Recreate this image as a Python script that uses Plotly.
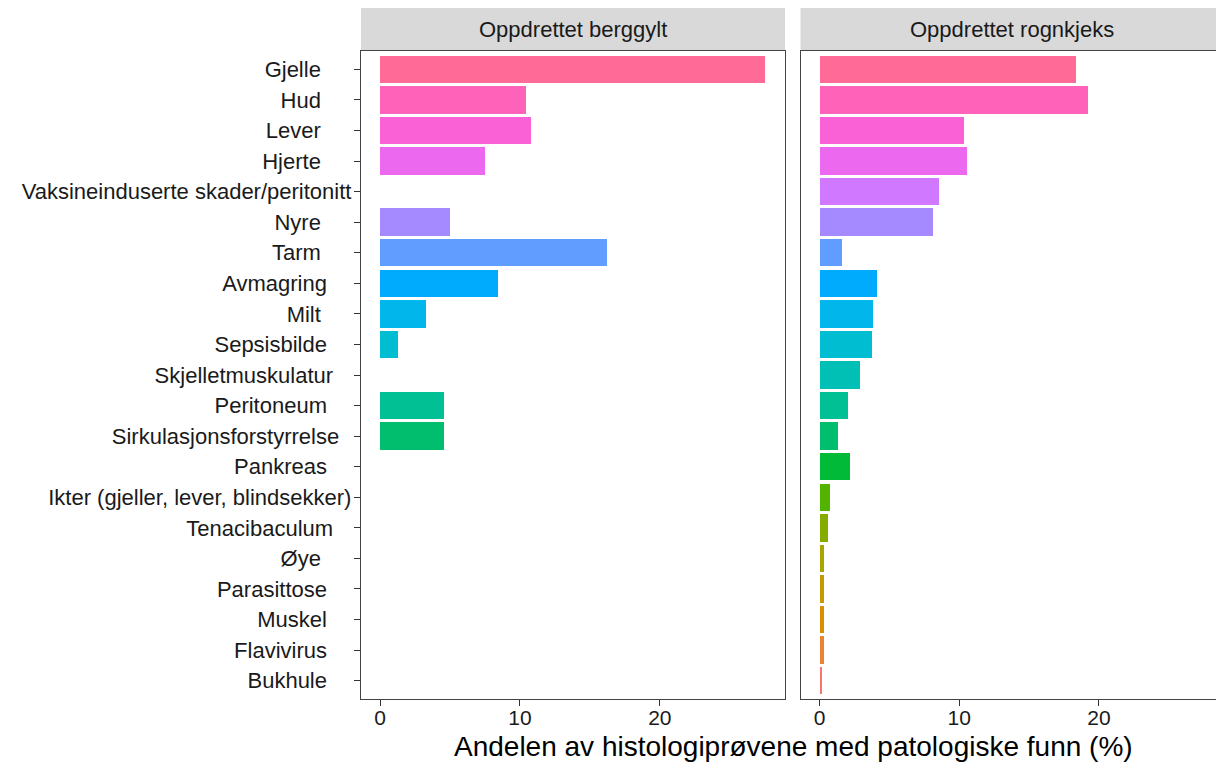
import math
import plotly.graph_objects as go

# ---------------- data ----------------
categories = [
    "Gjelle", "Hud", "Lever", "Hjerte", "Vaksineinduserte skader/peritonitt",
    "Nyre", "Tarm", "Avmagring", "Milt", "Sepsisbilde", "Skjelletmuskulatur",
    "Peritoneum", "Sirkulasjonsforstyrrelse", "Pankreas",
    "Ikter (gjeller, lever, blindsekker)", "Tenacibaculum", "Øye",
    "Parasittose", "Muskel", "Flavivirus", "Bukhule",
]
berggylt = [27.5, 10.4, 10.8, 7.5, 0, 5.0, 16.2, 8.4, 3.3, 1.3, 0,
            4.6, 4.6, 0, 0, 0, 0, 0, 0, 0, 0]
rognkjeks = [18.35, 19.2, 10.3, 10.5, 8.5, 8.1, 1.6, 4.1, 3.8, 3.7, 2.85,
             2.0, 1.3, 2.15, 0.7, 0.55, 0.28, 0.28, 0.28, 0.3, 0.12]
panels = ["Oppdrettet berggylt", "Oppdrettet rognkjeks"]
x_ticks = [0, 10, 20]
x_title = "Andelen av histologiprøvene med patologiske funn (%)"

# trailing padding (in spaces) seen on the y labels
label_pad = [5, 5, 5, 5, 0, 5, 5, 4, 5, 4, 3, 4, 2, 4, 0, 3, 5, 4, 4, 4, 4]


# ---------------- ggplot-like hue palette ----------------
def hcl_hex(h, c=100.0, l=65.0):
    hr = math.radians(h)
    U, V = c * math.cos(hr), c * math.sin(hr)
    Xn, Yn, Zn = 95.047, 100.0, 108.883
    Y = Yn * ((l + 16) / 116) ** 3
    den = Xn + 15 * Yn + 3 * Zn
    un, vn = 4 * Xn / den, 9 * Yn / den
    u = U / (13 * l) + un
    v = V / (13 * l) + vn
    X = 9 * Y * u / (4 * v)
    Z = Y * (12 - 3 * u - 20 * v) / (4 * v)
    X, Y, Z = X / 100, Y / 100, Z / 100
    r = 3.240479 * X - 1.537150 * Y - 0.498535 * Z
    g = -0.969256 * X + 1.875992 * Y + 0.041556 * Z
    b = 0.055648 * X - 0.204043 * Y + 1.057311 * Z

    def gam(t):
        t = 12.92 * t if t <= 0.0031308 else 1.055 * t ** (1 / 2.4) - 0.055
        return int(round(max(0, min(1, t)) * 255))

    return "#%02X%02X%02X" % (gam(r), gam(g), gam(b))


n = len(categories)
hues = [15 + k * 360 / n for k in range(n)]
colors = [hcl_hex(hues[n - 1 - i]) for i in range(n)]

ticktext = [c + "\u00a0" * p for c, p in zip(categories, label_pad)]

FONT = "Liberation Sans, Arial, sans-serif"
TXT = "#1A1A1A"

fig = go.Figure()
for k, vals in enumerate([berggylt, rognkjeks]):
    fig.add_trace(go.Bar(
        x=vals, y=categories, orientation="h",
        marker=dict(color=colors, line=dict(width=0)),
        width=0.9, showlegend=False,
        xaxis="x" if k == 0 else "x2", yaxis="y" if k == 0 else "y2",
    ))

# page body has an 8px margin: work in figure pixels = screen - 8
OFF = 8
W, H = 1216, 755
mt = 51 - OFF
bottom = 699 - OFF
mb = H - bottom
ph = H - mt - mb
d1 = [(361 - OFF) / W, (785 - OFF) / W]
d2 = [(800.5 - OFF) / W, 1.0]
xr = [-1.36, 28.95]
yr = [n - 1 + 0.6, -0.6]

axis_common = dict(
    range=xr, tickvals=x_ticks, ticktext=[str(t) for t in x_ticks],
    showgrid=False, zeroline=False, showline=True, mirror=True,
    linecolor="#444444", linewidth=1.3, ticks="outside", ticklen=6,
    tickwidth=1.3, tickcolor="#333333", automargin=False,
    ticklabelstandoff=-6,
    tickfont=dict(family=FONT, size=21, color=TXT),
)
fig.update_layout(
    width=W, height=H,
    margin=dict(l=0, r=0, t=mt, b=mb),
    plot_bgcolor="white", paper_bgcolor="white",
    bargap=0,
    xaxis=dict(domain=d1, anchor="y", **axis_common),
    xaxis2=dict(domain=d2, anchor="y2", **axis_common),
    yaxis=dict(
        domain=[0, 1], anchor="x", type="category",
        categoryorder="array", categoryarray=categories, range=yr,
        tickvals=categories, ticktext=ticktext, automargin=False,
        showgrid=False, zeroline=False, showline=True, mirror=True,
        linecolor="#444444", linewidth=1.3, ticks="outside", ticklen=6,
        tickwidth=1.3, tickcolor="#333333", ticklabelstandoff=-2,
        tickfont=dict(family=FONT, size=22, color=TXT),
    ),
    yaxis2=dict(
        domain=[0, 1], anchor="x2", type="category",
        categoryorder="array", categoryarray=categories, range=yr,
        showticklabels=False, showgrid=False, zeroline=False,
        showline=True, mirror=True, linecolor="#444444", linewidth=1.3,
        ticks="", automargin=False,
    ),
)

strip_top = 1 + (mt - (7.5 - OFF)) / ph
for dom, name in zip([d1, d2], panels):
    fig.add_shape(type="rect", xref="paper", yref="paper",
                  x0=dom[0], x1=dom[1], y0=1.0, y1=strip_top,
                  fillcolor="#D9D9D9", line=dict(width=0), layer="below")
    fig.add_annotation(xref="paper", yref="paper",
                       x=(dom[0] + dom[1]) / 2, y=(1 + strip_top) / 2,
                       text=name, showarrow=False, xanchor="center",
                       yanchor="middle",
                       font=dict(family=FONT, size=22, color=TXT))

fig.add_annotation(xref="paper", yref="paper", x=(793 - OFF) / W,
                   y=(bottom - (746 - OFF)) / ph,
                   text=x_title, showarrow=False, xanchor="center",
                   yanchor="middle",
                   font=dict(family=FONT, size=28, color="black"))

fig.write_html("out.html")
